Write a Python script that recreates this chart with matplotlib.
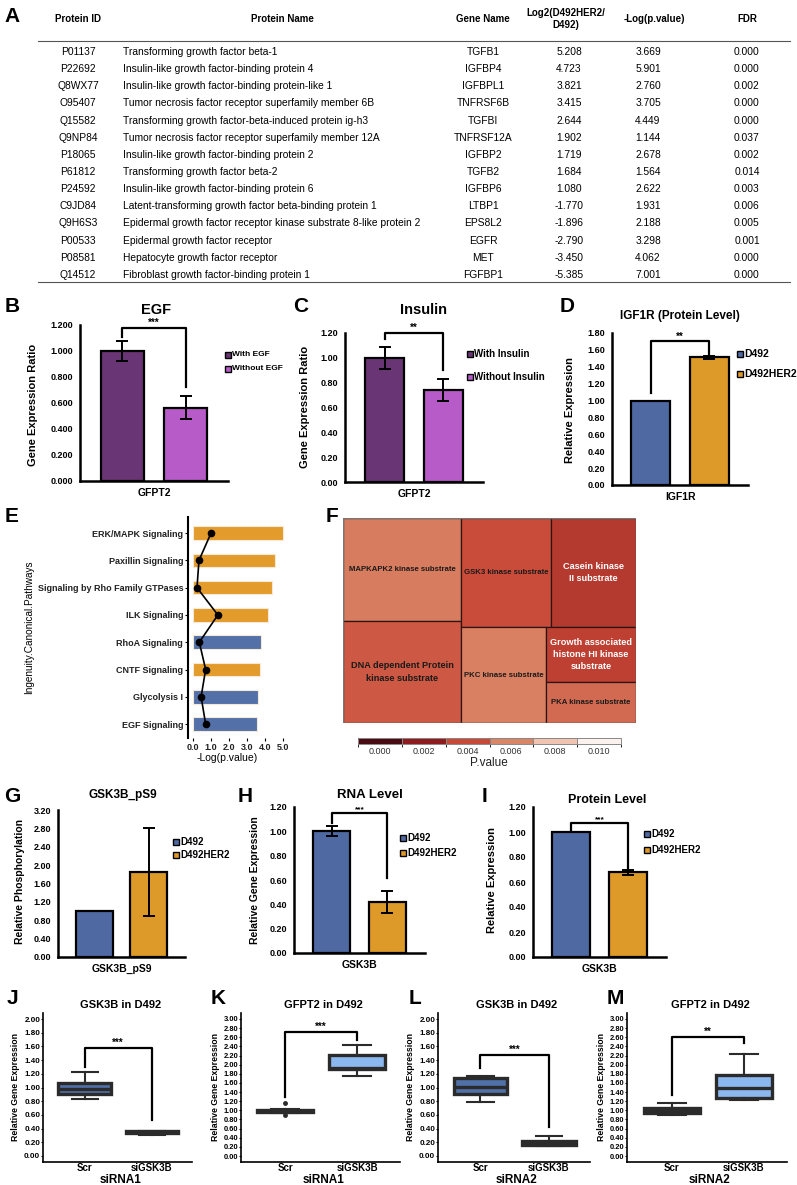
"""Multi-panel figure: secretome table, growth-factor bar charts, IPA pathways, kinase treemap, GSK3B boxplots."""

import matplotlib

matplotlib.use("Agg")
import matplotlib.pyplot as plt
import numpy as np
from matplotlib.cm import ScalarMappable
from matplotlib.colors import BoundaryNorm, LinearSegmentedColormap, ListedColormap
from matplotlib.patches import Rectangle

plt.rcParams["font.family"] = ["Liberation Sans", "DejaVu Sans"]

W, H = 797, 1185

# ---------------- A: table ----------------
protein_ids = ["P01137", "P22692", "Q8WX77", "O95407", "Q15582", "Q9NP84", "P18065",
               "P61812", "P24592", "C9JD84", "Q9H6S3", "P00533", "P08581", "Q14512"]
protein_names = [
    "Transforming growth factor beta-1",
    "Insulin-like growth factor-binding protein 4",
    "Insulin-like growth factor-binding protein-like 1",
    "Tumor necrosis factor receptor superfamily member 6B",
    "Transforming growth factor-beta-induced protein ig-h3",
    "Tumor necrosis factor receptor superfamily member 12A",
    "Insulin-like growth factor-binding protein 2",
    "Transforming growth factor beta-2",
    "Insulin-like growth factor-binding protein 6",
    "Latent-transforming growth factor beta-binding protein 1",
    "Epidermal growth factor receptor kinase substrate 8-like protein 2",
    "Epidermal growth factor receptor",
    "Hepatocyte growth factor receptor",
    "Fibroblast growth factor-binding protein 1",
]
gene_names = ["TGFB1", "IGFBP4", "IGFBPL1", "TNFRSF6B", "TGFBI", "TNFRSF12A", "IGFBP2",
              "TGFB2", "IGFBP6", "LTBP1", "EPS8L2", "EGFR", "MET", "FGFBP1"]
log2_ratio = [5.208, 4.723, 3.821, 3.415, 2.644, 1.902, 1.719, 1.684, 1.080,
              -1.770, -1.896, -2.790, -3.450, -5.385]
neglog_p = [3.669, 5.901, 2.760, 3.705, 4.449, 1.144, 2.678, 1.564, 2.622,
            1.931, 2.188, 3.298, 4.062, 7.001]
fdr = [0.000, 0.000, 0.002, 0.000, 0.000, 0.037, 0.002, 0.014, 0.003,
       0.006, 0.005, 0.001, 0.000, 0.000]
table_headers = ["Protein ID", "Protein Name", "Gene Name", "Log2(D492HER2/\nD492)",
                 "-Log(p.value)", "FDR"]

# ---------------- B-D ----------------
egf_groups = ["With EGF", "Without EGF"]
egf_ratio = [1.0, 0.565]
egf_err = [0.08, 0.09]
insulin_groups = ["With Insulin", "Without Insulin"]
insulin_ratio = [1.0, 0.74]
insulin_err = [0.09, 0.09]
cell_lines = ["D492", "D492HER2"]
igf1r_expr = [1.0, 1.51]
igf1r_err = [0.0, 0.012]

# ---------------- E ----------------
pathways = ["ERK/MAPK Signaling", "Paxillin Signaling", "Signaling by Rho Family GTPases",
            "ILK Signaling", "RhoA Signaling", "CNTF Signaling", "Glycolysis I", "EGF Signaling"]
pathway_neglogp = [5.0, 4.55, 4.4, 4.15, 3.8, 3.7, 3.6, 3.55]
pathway_ratio = [1.0, 0.33, 0.22, 1.38, 0.35, 0.70, 0.45, 0.70]
pathway_direction = ["up", "up", "up", "up", "down", "up", "down", "down"]

# ---------------- F ----------------
substrates = ["MAPKAPK2 kinase substrate", "DNA dependent Protein\nkinase substrate",
              "GSK3 kinase substrate", "Casein kinase\nII substrate", "PKC kinase substrate",
              "Growth associated\nhistone HI kinase\nsubstrate", "PKA kinase substrate"]
substrate_size = [20.2, 20.0, 16.3, 15.4, 13.6, 8.2, 6.1]
substrate_p = [0.0057, 0.0045, 0.0041, 0.0033, 0.0058, 0.0036, 0.0051]
pvalue_ticks = [0.000, 0.002, 0.004, 0.006, 0.008, 0.010]
pvalue_colors = ["#4a0b12", "#8e1c1e", "#c84937", "#db8567", "#f0c4b0", "#fcf2ed"]

# ---------------- G-I ----------------
ps9_expr = [1.0, 1.85]
ps9_err = [0.0, 0.96]
rna_expr = [1.0, 0.42]
rna_err = [0.04, 0.09]
protein_expr = [1.0, 0.68]
protein_err = [0.0, 0.02]

# ---------------- J-M ----------------
si_groups = ["Scr", "siGSK3B"]
j_stats = [dict(whislo=0.83, q1=0.91, med=0.98, q3=1.07, whishi=1.23, fliers=[]),
           dict(whislo=0.31, q1=0.33, med=0.345, q3=0.36, whishi=0.37, fliers=[])]
k_stats = [dict(whislo=0.95, q1=0.97, med=0.99, q3=1.01, whishi=1.03, fliers=[0.90, 1.16]),
           dict(whislo=1.75, q1=1.90, med=1.93, q3=2.22, whishi=2.44, fliers=[])]
l_stats = [dict(whislo=0.79, q1=0.90, med=1.01, q3=1.14, whishi=1.17, fliers=[]),
           dict(whislo=0.15, q1=0.155, med=0.18, q3=0.22, whishi=0.29, fliers=[])]
m_stats = [dict(whislo=0.89, q1=0.95, med=1.00, q3=1.06, whishi=1.15, fliers=[]),
           dict(whislo=1.22, q1=1.28, med=1.50, q3=1.78, whishi=2.23, fliers=[])]

PURPLE = ["#6a3574", "#b65bc8"]
BLUE_ORANGE = ["#4f6aa3", "#de9a29"]
DARK = "#2b2b2b"

fig = plt.figure(figsize=(W / 100, H / 100), dpi=100)


def px_axes(x0, y0, x1, y1):
    return fig.add_axes([x0 / W, 1 - y1 / H, (x1 - x0) / W, (y1 - y0) / H])


ov = fig.add_axes([0, 0, 1, 1], zorder=10)
ov.set_xlim(0, W)
ov.set_ylim(H, 0)
ov.axis("off")
ov.patch.set_alpha(0)


def otext(x, y, s, fs, weight="bold", **kw):
    kw.setdefault("ha", "center")
    kw.setdefault("va", "center")
    ov.text(x, y, s, fontsize=fs, fontweight=weight, **kw)


def legend_px(labels, colors, x, y0, dy, fs, sq=5.5):
    for i, (lab, col) in enumerate(zip(labels, colors)):
        y = y0 + i * dy
        ov.add_patch(Rectangle((x - sq / 2, y - sq / 2), sq, sq, facecolor=col,
                               edgecolor="black", lw=1.0))
        ov.text(x + sq / 2 + 1.5, y, lab, fontsize=fs, fontweight="bold", ha="left", va="center")


def bracket(ax, top, left_low, right_low, label, x1=0, x2=1, fs=7):
    ax.plot([x1, x1, x2, x2], [left_low, top, top, right_low], color="black", lw=1.6,
            clip_on=False, zorder=4)
    ax.text((x1 + x2) / 2, top, label, ha="center", va="bottom", fontsize=fs,
            fontweight="bold")


def bar_panel(box, values, errs, colors, ylim, yticks, yfmt, xname, tick_fs=6.5):
    ax = px_axes(*box)
    pos = np.arange(len(values))
    ax.bar(pos, values, width=0.67, color=colors, edgecolor="black", linewidth=1.6, zorder=2)
    ax.errorbar(pos, values, yerr=errs, fmt="none", ecolor="black", elinewidth=1.4,
                capsize=4, capthick=1.4, zorder=3)
    ax.set_xlim(-0.67, 1.67)
    ax.set_ylim(*ylim)
    ax.set_yticks(yticks)
    ax.set_yticklabels([yfmt.format(t) for t in yticks], fontsize=tick_fs, fontweight="bold")
    ax.set_xticks([0.5])
    ax.set_xticklabels([xname], fontsize=7.5, fontweight="bold")
    ax.tick_params(length=0, pad=5)
    for s in ("top", "right"):
        ax.spines[s].set_visible(False)
    for s in ("left", "bottom"):
        ax.spines[s].set_linewidth(1.8)
    ax.patch.set_alpha(0)
    return ax


def box_panel(box, stats, fill, ylim, yticks, tick_fs):
    ax = px_axes(*box)
    ax.bxp(stats, positions=[1, 2], widths=0.78, patch_artist=True, showfliers=True,
           boxprops=dict(facecolor=fill, edgecolor=DARK, linewidth=2.4),
           medianprops=dict(color=DARK, linewidth=2.4),
           whiskerprops=dict(color=DARK, linewidth=1.5),
           capprops=dict(color=DARK, linewidth=1.5),
           flierprops=dict(marker="o", markersize=2.5, markerfacecolor=DARK,
                           markeredgecolor=DARK))
    ax.set_xlim(0.38, 2.6)
    ax.set_ylim(*ylim)
    ax.set_yticks(yticks)
    ax.set_yticklabels([f"{t:.2f}" for t in yticks], fontsize=tick_fs, fontweight="bold")
    ax.set_xticks([1, 2])
    ax.set_xticklabels(si_groups, fontsize=7, fontweight="bold")
    ax.tick_params(axis="y", length=1.5, width=0.8, pad=0.5)
    ax.tick_params(axis="x", length=0, pad=1)
    for s in ("top", "right"):
        ax.spines[s].set_visible(False)
    for s in ("left", "bottom"):
        ax.spines[s].set_linewidth(1.2)
    ax.patch.set_alpha(0)
    return ax


# ---------------- A: table ----------------
otext(12, 16, "A", 15)
col_x = [78, 282, 483, 569, 648, 747]
head_x = [78, 282, 483, 566, 654, 747]
for hx, hdr in zip(head_x, table_headers):
    otext(hx, 19, hdr, 7, linespacing=1.3)
ov.plot([38, 790], [41, 41], color="#555555", lw=0.8)
row_y = 52 + 17.15 * np.arange(len(protein_ids))
for i, y in enumerate(row_y):
    otext(col_x[0], y, protein_ids[i], 7.4, weight="normal")
    otext(123, y, protein_names[i], 7.4, weight="normal", ha="left")
    otext(col_x[2], y, gene_names[i], 7.4, weight="normal")
    otext(col_x[3], y, f"{log2_ratio[i]:.3f}", 7.4, weight="normal")
    otext(col_x[4], y, f"{neglog_p[i]:.3f}", 7.4, weight="normal")
    otext(col_x[5], y, f"{fdr[i]:.3f}", 7.4, weight="normal")
ov.plot([38, 790], [282, 282], color="#555555", lw=0.8)

# ---------------- B ----------------
otext(12, 306, "B", 15)
otext(156, 310, "EGF", 10.5)
yt = np.round(np.arange(0, 1.21, 0.2), 2)
axb = bar_panel((80, 325, 228, 481), egf_ratio, egf_err, PURPLE, (0, 1.2), yt, "{:.3f}", "GFPT2")
bracket(axb, 1.18, 1.11, 0.72, "***")
otext(33, 405, "Gene Expression Ratio", 8, rotation=90)
legend_px(egf_groups, PURPLE, 228, 355, 14, 6)

# ---------------- C ----------------
otext(301, 306, "C", 15)
otext(424, 310, "Insulin", 10.5)
axc = bar_panel((345, 333, 483, 482), insulin_ratio, insulin_err, PURPLE, (0, 1.2), yt,
                "{:.2f}", "GFPT2")
bracket(axc, 1.20, 1.15, 0.90, "**")
otext(305, 407, "Gene Expression Ratio", 8, rotation=90)
legend_px(insulin_groups, PURPLE, 470, 354, 23, 7)

# ---------------- D ----------------
otext(567, 306, "D", 15)
otext(680, 316, "IGF1R (Protein Level)", 8.5)
yt_d = np.round(np.arange(0, 1.81, 0.2), 2)
axd = bar_panel((612, 333, 748, 485), igf1r_expr, igf1r_err, BLUE_ORANGE, (0, 1.8), yt_d,
                "{:.2f}", "IGF1R")
bracket(axd, 1.70, 1.09, 1.54, "**")
otext(570, 410, "Relative Expression", 8, rotation=90)
legend_px(cell_lines, BLUE_ORANGE, 740, 354, 20, 7.5)

# ---------------- E ----------------
otext(12, 517, "E", 15)
axe = px_axes(188, 517, 290, 738)
ypos = np.arange(len(pathways))
e_colors = ["#e39b2b" if d == "up" else "#5370a8" for d in pathway_direction]
axe.barh(ypos, pathway_neglogp, height=0.5, color=e_colors, edgecolor="#f5ead8", lw=0.8)
axe.plot(pathway_ratio, ypos, color="black", lw=1.2, marker="o", markersize=4.5)
axe.set_xlim(-0.28, 5.39)
axe.set_ylim(7.51, -0.59)
axe.set_yticks(ypos)
axe.set_yticklabels(pathways, fontsize=6.5, fontweight="bold", color="#222222")
axe.set_xticks(np.arange(0, 6))
axe.set_xticklabels([f"{t:.1f}" for t in range(6)], fontsize=6.5, fontweight="bold",
                    color="#222222")
axe.tick_params(length=2, width=0.8, pad=1.5)
for s in ("top", "right", "bottom"):
    axe.spines[s].set_visible(False)
axe.spines["left"].set_linewidth(1.5)
axe.patch.set_alpha(0)
otext(227, 758, "-Log(p.value)", 7.5, weight="normal")
otext(29, 627, "Ingenuity.Canonical.Pathways", 7.2, weight="normal", rotation=90)


# ---------------- F: treemap ----------------
def worst(row, short):
    s = sum(row)
    return max(max(short ** 2 * r / s ** 2, s ** 2 / (short ** 2 * r)) for r in row)


def squarify(sizes, x, y, w, h):
    total = sum(sizes)
    areas = [v * w * h / total for v in sizes]
    rects, i = [], 0
    while i < len(areas):
        short = min(w, h)
        row = [areas[i]]
        j = i + 1
        while j < len(areas) and worst(row + [areas[j]], short) <= worst(row, short):
            row.append(areas[j])
            j += 1
        s = sum(row)
        if w >= h:
            cw, cy = s / h, y
            for a in row:
                rects.append((x, cy, cw, a / cw))
                cy += a / cw
            x, w = x + cw, w - cw
        else:
            rh, cx = s / w, x
            for a in row:
                rects.append((cx, y, a / rh, rh))
                cx += a / rh
            y, h = y + rh, h - rh
        i = j
    return rects


otext(332, 517, "F", 15)
fx0, fy0, fx1, fy1 = 343, 518, 636, 723
axf = px_axes(fx0, fy0, fx1, fy1)
tw, th = fx1 - fx0, fy1 - fy0
axf.set_xlim(0, tw)
axf.set_ylim(th, 0)
axf.axis("off")
cell_cmap = LinearSegmentedColormap.from_list(
    "pv", [(t / pvalue_ticks[-1], c) for t, c in zip(pvalue_ticks, pvalue_colors)])
for (rx, ry, rw, rh), name, pv in zip(squarify(substrate_size, 0, 0, tw, th), substrates,
                                      substrate_p):
    axf.add_patch(Rectangle((rx, ry), rw, rh, facecolor=cell_cmap(pv / pvalue_ticks[-1]),
                            edgecolor="#2a1515", lw=0.9))
    multi = "\n" in name
    axf.text(rx + rw / 2, ry + rh / 2, name, ha="center", va="center",
             fontsize=6.6 if multi else 5.6, fontweight="bold", linespacing=1.45,
             color="white" if pv < 0.004 else "#1a1a1a")
axf.add_patch(Rectangle((0, 0), tw, th, fill=False, edgecolor="#777777", lw=1.0))

cax = px_axes(358, 738, 621, 744)
step = pvalue_ticks[1] - pvalue_ticks[0]
bounds = [t - step / 2 for t in pvalue_ticks] + [pvalue_ticks[-1] + step / 2]
sm = ScalarMappable(norm=BoundaryNorm(bounds, len(pvalue_colors)),
                    cmap=ListedColormap(pvalue_colors))
cb = fig.colorbar(sm, cax=cax, orientation="horizontal", ticks=pvalue_ticks, drawedges=True)
cb.ax.set_xticklabels([f"{t:.3f}" for t in pvalue_ticks], fontsize=6.5, color="#333333")
cb.ax.tick_params(length=0, pad=2)
cb.outline.set_edgecolor("#888888")
cb.outline.set_linewidth(0.7)
cb.dividers.set_color("#888888")
cb.dividers.set_linewidth(0.7)
otext(489, 763, "P.value", 8.5, weight="normal", color="#222222")

# ---------------- G ----------------
otext(12, 797, "G", 15)
otext(123, 795, "GSK3B_pS9", 8.5)
yt_g = np.round(np.arange(0, 3.21, 0.4), 2)
bar_panel((58, 810, 185, 957), ps9_expr, ps9_err, BLUE_ORANGE, (0, 3.2), yt_g, "{:.2f}",
          "GSK3B_pS9")
otext(20, 881, "Relative Phosphorylation", 7.5, rotation=90)
legend_px(cell_lines, BLUE_ORANGE, 176, 842, 13, 7)

# ---------------- H ----------------
otext(245, 797, "H", 15)
otext(370, 795, "RNA Level", 9.5)
axh = bar_panel((294, 807, 425, 953), rna_expr, rna_err, BLUE_ORANGE, (0, 1.2), yt, "{:.2f}",
                "GSK3B")
bracket(axh, 1.15, 1.07, 0.62, "***", fs=6)
otext(255, 880, "Relative Gene Expression", 7.5, rotation=90)
legend_px(cell_lines, BLUE_ORANGE, 403, 838, 15, 7)

# ---------------- I ----------------
otext(485, 797, "I", 15)
otext(607, 800, "Protein Level", 9)
axi = bar_panel((533, 807, 666, 957), protein_expr, protein_err, BLUE_ORANGE, (0, 1.2), yt,
                "{:.2f}", "GSK3B")
bracket(axi, 1.07, 1.02, 0.71, "***", fs=6)
otext(492, 880, "Relative Expression", 8, rotation=90)
legend_px(cell_lines, BLUE_ORANGE, 647, 834, 16, 7)

# ---------------- J-M ----------------
yt2 = np.round(np.arange(0, 2.01, 0.2), 2)
yt3 = np.round(np.arange(0, 3.01, 0.2), 2)
panels = [
    ("J", 12, 43, 192, "GSK3B in D492", j_stats, "#5070a8", (-0.09, 2.09), yt2, 5.8,
     (1.58, 1.30, 0.53, "***"), "siRNA1", 16),
    ("K", 218, 241, 400, "GFPT2 in D492", k_stats, "#8cb8f0", (-0.13, 3.13), yt3, 5.4,
     (2.71, 1.29, 2.54, "***"), "siRNA1", 216),
    ("L", 415, 438, 590, "GSK3B in D492", l_stats, "#5070a8", (-0.09, 2.09), yt2, 5.8,
     (1.48, 1.28, 0.42, "***"), "siRNA2", 411),
    ("M", 615, 627, 787, "GFPT2 in D492", m_stats, "#8cb8f0", (-0.13, 3.13), yt3, 5.4,
     (2.60, 1.33, 2.47, "**"), "siRNA2", 602),
]
for letter, lx, x0, x1, title, stats, fill, ylim, ticks, tfs, br, xlab, ylx in panels:
    otext(lx, 998, letter, 15)
    ax = box_panel((x0, 1013, x1, 1162), stats, fill, ylim, ticks, tfs)
    bracket(ax, br[0], br[1], br[2], br[3], x1=1, x2=2)
    otext((x0 + x1) / 2 + 3, 1005, title, 8)
    otext((x0 + x1) / 2 + 3, 1180, xlab, 8.5)
    otext(ylx, 1087, "Relative Gene Expression", 6.3, rotation=90)

fig.savefig("out.png", dpi=100)
